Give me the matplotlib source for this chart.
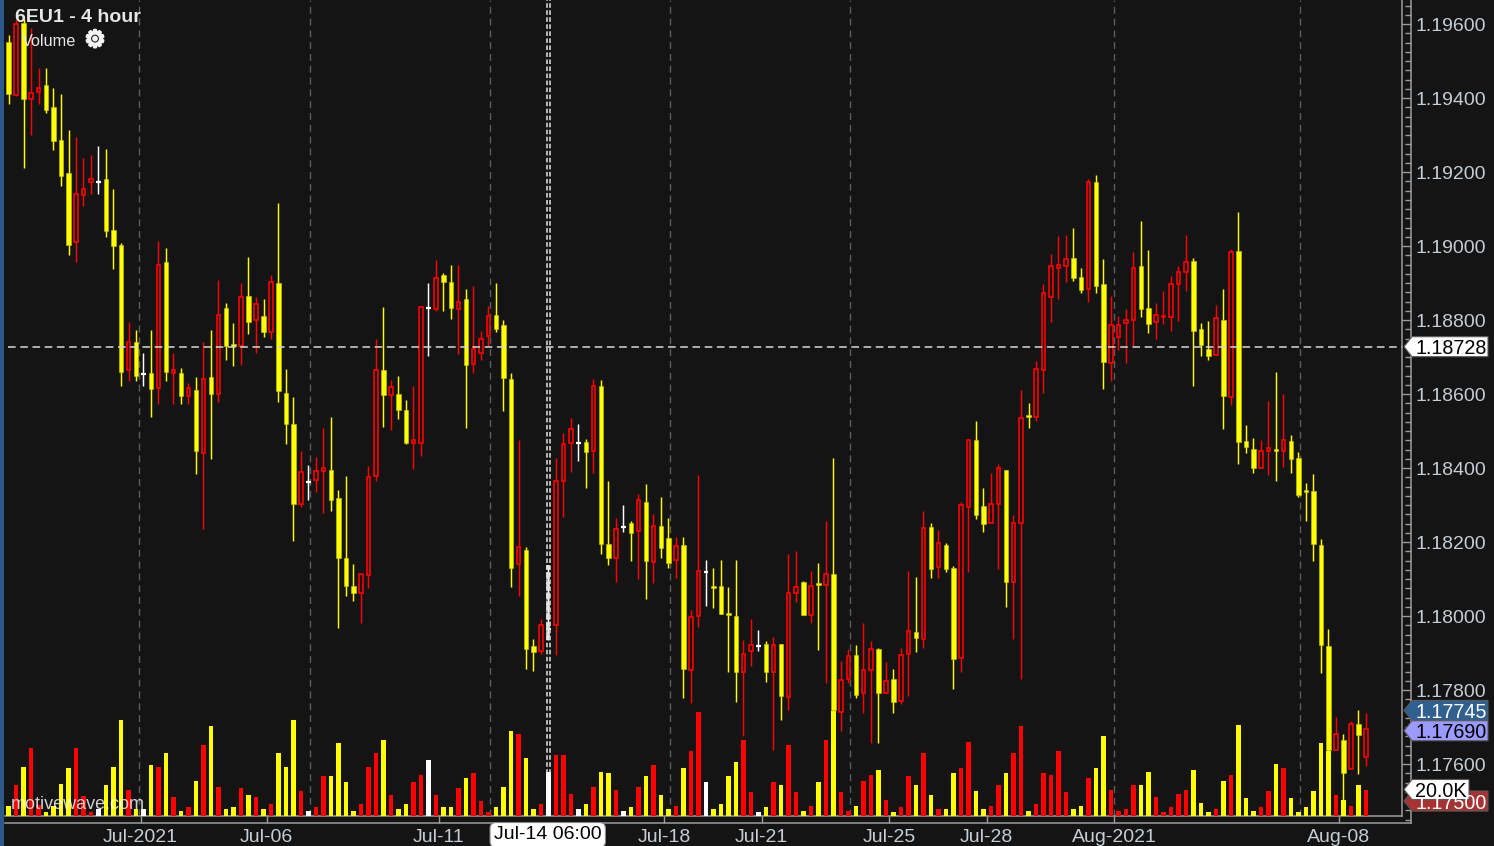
import numpy as np
import matplotlib
matplotlib.use("Agg")
import matplotlib.pyplot as plt
import matplotlib.patheffects as pe
from matplotlib.patches import Polygon, Rectangle
from matplotlib.ticker import FixedLocator, MultipleLocator, FormatStrFormatter

plt.rcParams['font.family'] = ['Liberation Sans', 'DejaVu Sans']

BG = '#141414'
AXIS = '#9c9c9c'
LABEL = '#c4ccd4'

opens = [1.19551, 1.19407, 1.19603, 1.19398, 1.19416, 1.19435, 1.19376, 1.19286, 1.19197, 1.19010,
         1.19139, 1.19172, 1.19174, 1.19180, 1.19043, 1.19003, 1.18665, 1.18742, 1.18655, 1.18658,
         1.18617, 1.18957, 1.18657, 1.18658, 1.18595, 1.18610, 1.18442, 1.18646, 1.18600, 1.18833,
         1.18734, 1.18730, 1.18864, 1.18799, 1.18811, 1.18769, 1.18901, 1.18604, 1.18520, 1.18304,
         1.18363, 1.18369, 1.18393, 1.18394, 1.18318, 1.18158, 1.18082, 1.18061, 1.18110, 1.18379,
         1.18666, 1.18598, 1.18601, 1.18556, 1.18469, 1.18469, 1.18832, 1.18829, 1.18921, 1.18904,
         1.18830, 1.18856, 1.18680, 1.18711, 1.18757, 1.18815, 1.18787, 1.18641, 1.18141, 1.18179,
         1.17920, 1.17906, 1.17966, 1.17975, 1.18364, 1.18469, 1.18468, 1.18471, 1.18445, 1.18621,
         1.18195, 1.18157, 1.18241, 1.18252, 1.18230, 1.18309, 1.18145, 1.18244, 1.18212, 1.18151,
         1.18192, 1.17853, 1.18000, 1.18120, 1.18082, 1.18082, 1.18009, 1.18001, 1.17850, 1.17906,
         1.17920, 1.17924, 1.17849, 1.17924, 1.17780, 1.18061, 1.18091, 1.18004, 1.18090, 1.18085,
         1.18115, 1.17740, 1.17829, 1.17896, 1.17793, 1.17853, 1.17912, 1.17793, 1.17831, 1.17771,
         1.17898, 1.17956, 1.17939, 1.18240, 1.18133, 1.18192, 1.18131, 1.17886, 1.18296, 1.18475,
         1.18297, 1.18251, 1.18304, 1.18395, 1.18093, 1.18251, 1.18544, 1.18538, 1.18665, 1.18863,
         1.18941, 1.18945, 1.18967, 1.18917, 1.18883, 1.19172, 1.18897, 1.18685, 1.18755, 1.18791,
         1.18799, 1.18946, 1.18833, 1.18794, 1.18807, 1.18809, 1.18897, 1.18929, 1.18959, 1.18775,
         1.18723, 1.18705, 1.18801, 1.18591, 1.18986, 1.18472, 1.18451, 1.18401, 1.18445, 1.18451,
         1.18445, 1.18472, 1.18428, 1.18342, 1.18337, 1.18192, 1.17920, 1.17639, 1.17665, 1.17586,
         1.17708, 1.17618]
highs = [1.19570, 1.19610, 1.19615, 1.19589, 1.19480, 1.19480, 1.19428, 1.19412, 1.19314, 1.19294,
         1.19238, 1.19245, 1.19271, 1.19262, 1.19155, 1.19008, 1.18796, 1.18772, 1.18711, 1.18772,
         1.19015, 1.18994, 1.18711, 1.18670, 1.18629, 1.18646, 1.18742, 1.18772, 1.18909, 1.18845,
         1.18791, 1.18901, 1.18971, 1.18862, 1.18856, 1.18922, 1.19116, 1.18667, 1.18593, 1.18446,
         1.18407, 1.18431, 1.18508, 1.18537, 1.18342, 1.18379, 1.18142, 1.18115, 1.18405, 1.18750,
         1.18836, 1.18638, 1.18650, 1.18584, 1.18621, 1.18838, 1.18901, 1.18962, 1.18926, 1.18950,
         1.18950, 1.18885, 1.18893, 1.18771, 1.18839, 1.18901, 1.18800, 1.18657, 1.18475, 1.18187,
         1.17939, 1.17993, 1.18138, 1.18426, 1.18495, 1.18536, 1.18520, 1.18479, 1.18641, 1.18638,
         1.18366, 1.18264, 1.18301, 1.18257, 1.18329, 1.18358, 1.18276, 1.18321, 1.18264, 1.18213,
         1.18213, 1.18017, 1.18382, 1.18151, 1.18131, 1.18151, 1.18078, 1.18151, 1.17935, 1.17993,
         1.17961, 1.17932, 1.17944, 1.17924, 1.18168, 1.18175, 1.18094, 1.18123, 1.18143, 1.18256,
         1.18426, 1.17879, 1.17912, 1.17921, 1.17980, 1.17932, 1.17915, 1.17875, 1.17856, 1.17915,
         1.18123, 1.18106, 1.18285, 1.18252, 1.18232, 1.18197, 1.18134, 1.18309, 1.18479, 1.18528,
         1.18345, 1.18386, 1.18410, 1.18395, 1.18273, 1.18610, 1.18577, 1.18690, 1.18897, 1.18978,
         1.19027, 1.19031, 1.19048, 1.18942, 1.19181, 1.19193, 1.18966, 1.18865, 1.18812, 1.18831,
         1.18983, 1.19068, 1.18990, 1.18845, 1.18878, 1.18918, 1.18946, 1.19031, 1.18968, 1.18792,
         1.18797, 1.18840, 1.18884, 1.18991, 1.19092, 1.18516, 1.18480, 1.18475, 1.18582, 1.18659,
         1.18601, 1.18488, 1.18443, 1.18359, 1.18384, 1.18207, 1.17964, 1.17726, 1.17681, 1.17717,
         1.17746, 1.17737]
lows = [1.19385, 1.19405, 1.19211, 1.19301, 1.19385, 1.19360, 1.19260, 1.19162, 1.18975, 1.18957,
        1.19109, 1.19142, 1.19142, 1.19024, 1.18939, 1.18623, 1.18635, 1.18635, 1.18623, 1.18538,
        1.18574, 1.18635, 1.18574, 1.18574, 1.18574, 1.18384, 1.18234, 1.18424, 1.18578, 1.18691,
        1.18675, 1.18679, 1.18763, 1.18712, 1.18755, 1.18748, 1.18578, 1.18464, 1.18204, 1.18295,
        1.18315, 1.18335, 1.18278, 1.18283, 1.17969, 1.18055, 1.18042, 1.17982, 1.18075, 1.18364,
        1.18512, 1.18504, 1.18532, 1.18464, 1.18398, 1.18432, 1.18703, 1.18825, 1.18825, 1.18804,
        1.18707, 1.18509, 1.18658, 1.18692, 1.18730, 1.18767, 1.18553, 1.18079, 1.18055, 1.17856,
        1.17852, 1.17897, 1.17935, 1.17896, 1.18269, 1.18390, 1.18420, 1.18347, 1.18387, 1.18168,
        1.18139, 1.18091, 1.18228, 1.18148, 1.18099, 1.18047, 1.18088, 1.18156, 1.18130, 1.18104,
        1.17779, 1.17764, 1.17970, 1.18026, 1.18023, 1.18006, 1.17848, 1.17767, 1.17677, 1.17865,
        1.17905, 1.17823, 1.17638, 1.17718, 1.17746, 1.18039, 1.18002, 1.17981, 1.17909, 1.17820,
        1.17737, 1.17690, 1.17820, 1.17779, 1.17739, 1.17658, 1.17658, 1.17793, 1.17739, 1.17763,
        1.17784, 1.17904, 1.17913, 1.18104, 1.18104, 1.18119, 1.17804, 1.17848, 1.18120, 1.18261,
        1.18228, 1.18251, 1.18127, 1.18025, 1.17937, 1.17830, 1.18509, 1.18527, 1.18603, 1.18794,
        1.18858, 1.18903, 1.18906, 1.18873, 1.18850, 1.18874, 1.18615, 1.18635, 1.18720, 1.18684,
        1.18731, 1.18808, 1.18764, 1.18748, 1.18790, 1.18770, 1.18797, 1.18878, 1.18623, 1.18704,
        1.18692, 1.18705, 1.18505, 1.18570, 1.18411, 1.18441, 1.18387, 1.18401, 1.18380, 1.18364,
        1.18403, 1.18387, 1.18322, 1.18258, 1.18148, 1.17845, 1.17620, 1.17638, 1.17503, 1.17586,
        1.17573, 1.17596]
closes = [1.19410, 1.19601, 1.19398, 1.19414, 1.19428, 1.19368, 1.19284, 1.19190, 1.19004, 1.19140,
          1.19155, 1.19180, 1.19174, 1.19041, 1.19000, 1.18659, 1.18741, 1.18648, 1.18655, 1.18615,
          1.18948, 1.18659, 1.18665, 1.18595, 1.18617, 1.18445, 1.18640, 1.18599, 1.18815, 1.18730,
          1.18729, 1.18863, 1.18794, 1.18843, 1.18769, 1.18903, 1.18607, 1.18518, 1.18303, 1.18388,
          1.18363, 1.18393, 1.18400, 1.18315, 1.18157, 1.18080, 1.18061, 1.18113, 1.18376, 1.18664,
          1.18598, 1.18620, 1.18557, 1.18468, 1.18475, 1.18835, 1.18832, 1.18915, 1.18902, 1.18833,
          1.18850, 1.18679, 1.18721, 1.18749, 1.18811, 1.18776, 1.18643, 1.18131, 1.18186, 1.17910,
          1.17904, 1.17975, 1.17966, 1.18364, 1.18466, 1.18506, 1.18468, 1.18444, 1.18623, 1.18196,
          1.18157, 1.18234, 1.18241, 1.18225, 1.18315, 1.18148, 1.18243, 1.18184, 1.18144, 1.18190,
          1.17856, 1.17997, 1.18121, 1.18120, 1.18075, 1.18006, 1.18002, 1.17848, 1.17898, 1.17923,
          1.17920, 1.17848, 1.17923, 1.17783, 1.18061, 1.18078, 1.18002, 1.18080, 1.18083, 1.18113,
          1.17746, 1.17826, 1.17891, 1.17787, 1.17853, 1.17910, 1.17791, 1.17825, 1.17767, 1.17894,
          1.17959, 1.17942, 1.18239, 1.18128, 1.18198, 1.18127, 1.17885, 1.18299, 1.18475, 1.18274,
          1.18250, 1.18303, 1.18401, 1.18092, 1.18251, 1.18535, 1.18538, 1.18669, 1.18872, 1.18945,
          1.18948, 1.18965, 1.18914, 1.18882, 1.19172, 1.18891, 1.18687, 1.18786, 1.18786, 1.18799,
          1.18941, 1.18829, 1.18788, 1.18814, 1.18812, 1.18897, 1.18929, 1.18957, 1.18770, 1.18733,
          1.18703, 1.18806, 1.18595, 1.18985, 1.18470, 1.18456, 1.18400, 1.18445, 1.18454, 1.18445,
          1.18475, 1.18424, 1.18326, 1.18336, 1.18194, 1.17922, 1.17639, 1.17680, 1.17577, 1.17708,
          1.17678, 1.17696]
volumes = [7.2, 23.3, 37.2, 52.0, 8.0, 2.6, 7.2, 24.6, 36.2, 52.0,
           15.1, 2.6, 4.9, 23.3, 37.2, 73.1, 20.0, 4.9, 4.9, 38.5,
           37.2, 47.7, 14.1, 3.8, 6.2, 26.9, 54.6, 68.5, 22.3, 4.9,
           6.2, 21.0, 15.4, 14.1, 4.9, 8.5, 47.7, 37.2, 73.1, 18.7,
           3.8, 6.2, 30.3, 30.3, 55.6, 25.6, 3.8, 8.5, 37.2, 47.7,
           57.9, 15.4, 4.9, 8.5, 25.6, 31.5, 42.8, 15.4, 6.2, 6.2,
           21.0, 29.2, 32.6, 10.8, 2.6, 6.2, 22.3, 64.9, 62.6, 44.1,
           4.9, 8.5, 33.6, 46.4, 46.4, 16.4, 4.9, 8.5, 22.3, 33.8,
           32.6, 20.0, 3.8, 6.2, 22.3, 30.3, 38.5, 15.4, 4.9, 7.2,
           36.2, 50.0, 80.0, 25.6, 4.9, 8.5, 30.3, 40.8, 57.9, 17.7,
           2.6, 6.2, 25.6, 23.3, 54.6, 17.7, 3.8, 7.2, 25.6, 57.9,
           80.3, 17.7, 3.8, 7.2, 26.9, 31.5, 34.9, 11.8, 2.6, 6.2,
           30.3, 23.3, 47.7, 15.4, 4.9, 4.9, 32.6, 36.2, 56.9, 18.7,
           4.9, 7.2, 23.3, 32.6, 47.7, 68.5, 3.8, 8.5, 32.6, 31.5,
           50.0, 17.7, 4.9, 7.2, 29.2, 36.2, 61.5, 20.0, 3.8, 4.9,
           23.3, 23.3, 33.8, 14.1, 2.6, 6.2, 16.4, 20.0, 34.9, 9.5,
           2.6, 4.9, 26.9, 31.5, 69.5, 13.1, 3.8, 6.2, 18.7, 39.5,
           36.2, 13.1, 2.6, 6.2, 18.7, 55.6, 49.5, 15.4, 11.8, 7.2,
           23.3, 20.0]

# axis labels and positions, in bar numbers
date_ticks = [17.6, 34.4, 57.4, 87.4, 100.4, 117.4, 130.4, 147.4, 177.4]
date_labels = ['Jul-2021', 'Jul-06', 'Jul-11', 'Jul-18', 'Jul-21', 'Jul-25', 'Jul-28', 'Aug-2021', 'Aug-08']
week_lines = [17.4, 40.2, 64.2, 88.2, 112.2, 147.4, 172.2]
cursor_bar = 72
cursor_price = 1.18728

# (price, label, fill, text colour)
price_tags = [(1.18728, '1.18728', '#ffffff', '#000000'),
              (1.17745, '1.17745', '#2f6090', '#ffffff'),
              (1.17690, '1.17690', '#9a9aff', '#000000'),
              (1.17500, '1.17500', '#a83232', '#ffffff')]

W, H = 1494, 846
PX_PER_BAR = 7.5
FIRST_BAR_PX = 8.5
PRICE_AT_TOP = 1.19665
PRICE_PER_PX = 2.7027e-5
K_PER_PX = 20.0 / 26.0


def bar_at(px):
    return (px - FIRST_BAR_PX) / PX_PER_BAR


def box(x0, y0, x1, y1):
    # pixel box, y measured from the top of the image
    return [x0 / W, 1 - y1 / H, (x1 - x0) / W, (y1 - y0) / H]


fig = plt.figure(figsize=(W / 100, H / 100), dpi=100, facecolor=BG)
fig.add_artist(Rectangle((0, 0), 4 / W, 1, transform=fig.transFigure, color='#2b5b8a', lw=0))

BASE_Y = 815.5
ax = fig.add_axes(box(5, 0, 1402, BASE_Y), facecolor=BG)
ax.set_xlim(bar_at(5), bar_at(1402))
ax.set_ylim(PRICE_AT_TOP - BASE_Y * PRICE_PER_PX, PRICE_AT_TOP)
ax.set_xticks([])
ax.set_yticks([])
for side in ['top', 'left']:
    ax.spines[side].set_visible(False)
for side in ['bottom', 'right']:
    ax.spines[side].set_color(AXIS)
    ax.spines[side].set_linewidth(1.1)

vol_ax = fig.add_axes(ax.get_position(), facecolor='none', sharex=ax)
vol_ax.set_ylim(0, BASE_Y * K_PER_PX)
vol_ax.axis('off')

bars = np.arange(len(opens))
o, h, l, c = map(np.array, (opens, highs, lows, closes))
colors = np.where(o == c, '#ffffff', np.where(o > c, '#ffff00', '#ff0000'))

for x in week_lines:
    ax.axvline(x, color='#5c5c5c', lw=1.0, dashes=(5, 3.5), zorder=1)

# volume first, candles sit on top of it
vol_ax.bar(bars, volumes, width=0.6, color=colors, zorder=2)

ax.vlines(bars, l, h, colors=colors, lw=1.05, zorder=3)
up = c > o
down = c < o
flat = c == o
ax.bar(bars[down], (o - c)[down], bottom=c[down], width=0.62, color='#ffff00',
       edgecolor='#c8c800', lw=0.4, zorder=4)
ax.bar(bars[up], (c - o)[up], bottom=o[up], width=0.5, facecolor=BG,
       edgecolor='#ff0000', lw=1.2, zorder=4)
ax.hlines(c[flat], bars[flat] - 0.27, bars[flat] + 0.27, colors='#ffffff', lw=1.6, zorder=4)

# crosshair
ax.hlines(cursor_price, bar_at(8), bar_at(1402), color='#d8d8d8', lw=1.1, linestyles=(0, (5, 3)), zorder=6)
for dx in (-0.17, 0.2):
    ax.axvline(cursor_bar + dx, color='#e4e4e4', lw=1.1, ls=(0, (3, 1.6)), zorder=6)
# the cursor bar's wick fills in between the two dashed lines
ax.vlines(cursor_bar, l[cursor_bar], h[cursor_bar], color='#e4e4e4', lw=2.6, linestyles=(0, (2, 0.8)), zorder=6)

# price scale on the right
price_ax = fig.add_axes(box(1402, 0, 1411, 822.7), facecolor='none')
price_ax.set_xticks([])
price_ax.set_ylim(PRICE_AT_TOP - 822.7 * PRICE_PER_PX, PRICE_AT_TOP)
for side in ['top', 'left', 'bottom']:
    price_ax.spines[side].set_visible(False)
price_ax.spines['right'].set_color(AXIS)
price_ax.spines['right'].set_linewidth(1.1)
price_ax.yaxis.tick_right()
price_ax.yaxis.set_major_locator(MultipleLocator(0.002))
price_ax.yaxis.set_minor_locator(MultipleLocator(0.00025))
price_ax.yaxis.set_major_formatter(FormatStrFormatter('%.5f'))
price_ax.tick_params(axis='y', which='major', direction='in', length=6.5, width=1.0,
                     color=AXIS, labelcolor=LABEL, labelsize=14, pad=3.5)
price_ax.tick_params(axis='y', which='minor', direction='in', length=4.3, width=1.0, color=AXIS)
for tick_label in price_ax.get_yticklabels():
    tick_label.set_va('center_baseline')

# date scale along the bottom
date_ax = fig.add_axes(box(5, BASE_Y, 1411, 822.7), facecolor='none')
date_ax.set_xlim(bar_at(5), bar_at(1411))
date_ax.set_yticks([])
for side in ['top', 'left', 'right']:
    date_ax.spines[side].set_visible(False)
date_ax.spines['bottom'].set_color(AXIS)
date_ax.spines['bottom'].set_linewidth(1.1)
date_ax.xaxis.set_major_locator(FixedLocator(date_ticks))
date_ax.set_xticklabels(date_labels)
date_ax.tick_params(axis='x', direction='in', length=5, width=1.0, color=AXIS,
                    labelcolor=LABEL, labelsize=14, pad=4.2)
date_ax.text(cursor_bar - 0.1, -1.7, 'Jul-14 06:00', transform=date_ax.get_xaxis_transform(),
             ha='center', va='center', fontsize=14, color='#000000', zorder=10,
             bbox=dict(boxstyle='round,pad=0.2,rounding_size=0.3', fc='#ffffff', ec='#8a8a8a', lw=0.8))


def value_tag(axes, value, label, fill, text_color, right_px):
    y = H - axes.transData.transform((0, value))[1]
    half = 10
    pts = [(1404, y), (1412, y - half), (right_px, y - half), (right_px, y + half), (1412, y + half)]
    pts = [(px / W, 1 - py / H) for px, py in pts]
    fig.add_artist(Polygon(pts, closed=True, transform=fig.transFigure, fc=fill, ec='#5a5a5a', lw=0.8, zorder=5))
    fig.text(1415.5 / W, 1 - y / H, label, color=text_color, fontsize=14.2, va='center_baseline', ha='left', zorder=6)


for price, label, fill, text_color in price_tags:
    value_tag(ax, price, label, fill, text_color, 1488)
value_tag(vol_ax, 20.0, '20.0K', '#ffffff', '#000000', 1469)

# legend text in the corner
fig.text(15 / W, 1 - 15 / H, '6EU1 - 4 hour', color='#e6e6e6', fontsize=14, fontweight='bold',
         va='center_baseline', zorder=8)
fig.text(22 / W, 1 - 40 / H, 'Volume', color='#e6e6e6', fontsize=11.7, va='center_baseline', zorder=8)
gear = fig.text(95 / W, 1 - 40 / H, '\u2699', color='#f2f2f2', fontsize=17, family='DejaVu Sans',
                ha='center', va='center', zorder=8)
gear.set_path_effects([pe.withStroke(linewidth=1.6, foreground='#f2f2f2')])
fig.text(11 / W, 1 - 802 / H, 'motivewave.com', color='#ffffff', alpha=0.8, fontsize=13,
         va='center_baseline', zorder=8)

fig.savefig('out.png', dpi=100, facecolor=BG)
